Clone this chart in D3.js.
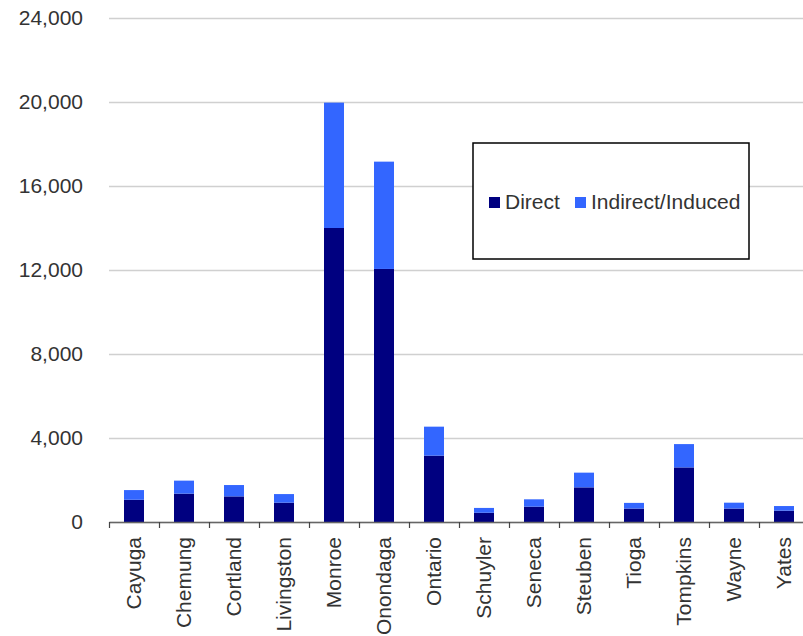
<!DOCTYPE html>
<html>
<head>
<meta charset="utf-8">
<script src="https://cdn.jsdelivr.net/npm/d3@7"></script>
<style>
  body { margin: 0; background: #fff; }
  svg { font-family: "Liberation Sans", Arial, sans-serif; }
</style>
</head>
<body>
<div id="chart"></div>
<script>
// County job impacts
const counties = ["Cayuga", "Chemung", "Cortland", "Livingston", "Monroe", "Onondaga", "Ontario",
    "Schuyler", "Seneca", "Steuben", "Tioga", "Tompkins", "Wayne", "Yates"]
const direct = [1060, 1350, 1220, 920, 14000, 12050, 3160, 440, 730, 1650, 640, 2600, 640, 540]
const indirect = [460, 620, 540, 410, 5970, 5110, 1380, 230, 350, 700, 270, 1110, 280, 220]
const seriesNames = ["Direct", "Indirect/Induced"]
const seriesColors = ["#000080", "#3366ff"]
const yTicks = [0, 4000, 8000, 12000, 16000, 20000, 24000]

const margin = { top: 18, right: 0, bottom: 114, left: 109 }
const graphWidth = 700
const graphHeight = 504
const fontSize = "21px"

const rows = counties.map((c, i) => ({ county: c, Direct: direct[i], "Indirect/Induced": indirect[i] }))
const stacked = d3.stack().keys(seriesNames)(rows)

var x = d3.scaleBand()
    .domain(counties)
    .range([0, graphWidth])
    .paddingInner(0.6)
    .paddingOuter(0.3)
// boundaries between categories, for the tick marks
var xEdge = d3.scaleLinear().domain([0, counties.length]).range([0, graphWidth])

var y = d3.scaleLinear()
    .domain([0, 24000])
    .range([graphHeight, 0])

const svg = d3.select("#chart").append("svg")
    .attr("width", 803)
    .attr("height", 636)
    .append("g")
    .attr("transform", "translate(" + margin.left + "," + margin.top + ")")

// gridlines + y labels
const yAxis = svg.append("g")
    .call(d3.axisLeft(y).tickValues(yTicks).tickSize(-graphWidth).tickPadding(26).tickFormat(d3.format(",")))
yAxis.select(".domain").remove()
yAxis.selectAll("line").attr("stroke", "#d0d0d0").attr("stroke-width", 1.5)
yAxis.selectAll("text")
    .attr("fill", "#333")
    .style("font-size", fontSize)

// bars
svg.append("g")
    .selectAll("g")
    .data(stacked)
    .join("g")
    .attr("fill", (d, i) => seriesColors[i])
    .selectAll("rect")
    .data(d => d)
    .join("rect")
    .attr("x", d => x(d.data.county))
    .attr("width", x.bandwidth())
    .attr("y", d => y(d[1]))
    .attr("height", d => y(d[0]) - y(d[1]))

// x axis line and ticks
const edgeAxis = svg.append("g")
    .attr("transform", "translate(0," + graphHeight + ")")
    .call(d3.axisBottom(xEdge).tickValues(d3.range(0, counties.length + 1)).tickFormat("").tickSize(6).tickSizeOuter(0))
edgeAxis.select(".domain").attr("stroke", "#666").attr("stroke-width", 1.5)
edgeAxis.selectAll("line").attr("stroke", "#444").attr("stroke-width", 1.2)

// category labels, rotated
const labelAxis = svg.append("g")
    .attr("transform", "translate(0," + graphHeight + ")")
    .call(d3.axisBottom(x).tickSize(0).tickPadding(0))
labelAxis.select(".domain").remove()
labelAxis.selectAll("text")
    .attr("fill", "#333")
    .style("font-size", fontSize)
    .attr("text-anchor", "end")
    .attr("transform", "rotate(-90)")
    .attr("x", -15)
    .attr("y", 0)
    .attr("dy", "0.35em")

// legend
const legend = svg.append("g")
    .attr("transform", "translate(" + (473 - margin.left) + "," + (143 - margin.top) + ")")
legend.append("rect")
    .attr("width", 276)
    .attr("height", 116)
    .attr("fill", "#fff")
    .attr("stroke", "#000")
    .attr("stroke-width", 1.5)
const legendX = [16, 102]
const item = legend.selectAll("g.item")
    .data(seriesNames)
    .join("g")
    .attr("class", "item")
    .attr("transform", (d, i) => "translate(" + legendX[i] + ",54)")
item.append("rect")
    .attr("width", 11)
    .attr("height", 11)
    .attr("fill", (d, i) => seriesColors[i])
item.append("text")
    .attr("x", 16)
    .attr("y", 5)
    .attr("dy", "0.35em")
    .attr("fill", "#333")
    .style("font-size", fontSize)
    .text(d => d)
</script>
</body>
</html>
